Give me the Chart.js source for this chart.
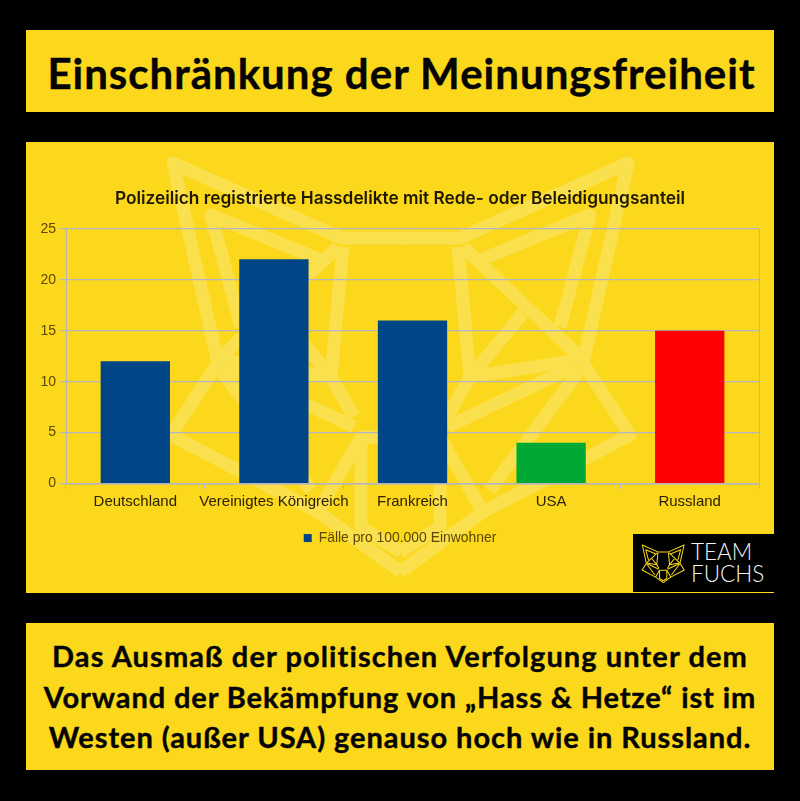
<!DOCTYPE html>
<html lang="de">
<head>
<meta charset="utf-8">
<title>Einschränkung der Meinungsfreiheit</title>
<script src="https://cdn.jsdelivr.net/npm/chart.js@4"></script>
<style>
  html, body { margin: 0; padding: 0; background: #000; }
  #page { position: relative; width: 800px; height: 801px; overflow: hidden; background: #000; }
  .panel { position: absolute; left: 26px; width: 748px; background: #fbd81b; }
  #head { top: 30px; height: 82px; }
  #mid { top: 142px; height: 451px; }
  #foot { top: 623px; height: 147px; }
  .line { position: absolute; left: 0; width: 100%; text-align: center; white-space: nowrap; color: #050505; font-family: Lato, sans-serif; font-weight: 700; -webkit-text-stroke: 0.4px #050505; }
  #head .line { top: 18px; font-size: 42px; line-height: 50px; letter-spacing: 1px; padding-left: 3px; box-sizing: border-box; }
  #foot .line { font-size: 29px; line-height: 36px; }
  #wm { position: absolute; left: 0; top: 0; }
  #chart { position: absolute; left: 0; top: 0; }
  #logo { position: absolute; left: 607px; top: 392px; width: 141px; height: 58px; background: #000; }
  #logo svg { position: absolute; left: 0; top: 0; }
  #logo div { position: absolute; left: 58px; color: #f2f2f2; font-family: Lato, sans-serif; font-weight: 300; font-size: 22.5px; line-height: 24px; }
</style>
</head>
<body>
<div id="page">
  <div class="panel" id="head"><div class="line">Einschränkung der Meinungsfreiheit</div></div>
  <div class="panel" id="mid">
    <svg id="wm" width="748" height="451" viewBox="26 142 748 451">
      <defs>
        <g id="half" fill="none" stroke-linejoin="round" stroke-linecap="butt">
          <path d="M400 238 L460 238 L628 163 L583 363 L630 435 L483 512 L400 572"/>
          <path d="M480 260 L590 215 L560 327"/>
          <path d="M463 247 L580 357"/>
          <path d="M458 247 L470 377 L523 313"/>
          <path d="M470 377 L577 360"/>
          <path d="M573 367 L447 427"/>
          <path d="M470 377 L447 417"/>
          <path d="M580 370 L490 490"/>
          <path d="M400 437 L440 437 L483 512"/>
          <path d="M440 437 L440 527 L400 552"/>
        </g>
        <g id="fox">
          <use href="#half"/>
          <use href="#half" transform="translate(801 0) scale(-1 1)"/>
        </g>
      </defs>
      <use href="#fox" stroke="#fbe04d" stroke-width="13"/>
    </svg>
    <canvas id="chart" width="748" height="451"></canvas>
    <div id="logo">
      <svg width="58" height="58" viewBox="0 0 58 58">
        <use href="#fox" stroke="#fbd81b" stroke-width="11" transform="translate(9 11) scale(0.0919) translate(-170 -163)"/>
      </svg>
      <div style="top:6px">TEAM</div>
      <div style="top:28px">FUCHS</div>
    </div>
  </div>
  <div class="panel" id="foot">
    <div class="line" style="top:15px;letter-spacing:1.1px">Das Ausmaß der politischen Verfolgung unter dem</div>
    <div class="line" style="top:56px;letter-spacing:0.9px">Vorwand der Bekämpfung von „Hass &amp; Hetze“ ist im</div>
    <div class="line" style="top:96px;letter-spacing:0.95px">Westen (außer USA) genauso hoch wie in Russland.</div>
  </div>
</div>
<script>
  const categories = ["Deutschland", "Vereinigtes Königreich", "Frankreich", "USA", "Russland"];
  const values = [12, 22, 16, 4, 15];
  const barColors = ["#004586", "#004586", "#004586", "#00a933", "#ff0000"];
  const seriesName = "Fälle pro 100.000 Einwohner";
  const chartTitle = "Polizeilich registrierte Hassdelikte mit Rede- oder Beleidigungsanteil";
  const gridColor = "#b4b4c4";

  // the source chart closes the plot with a line on the right side
  const rightEdge = {
    id: "rightEdge",
    beforeDatasetsDraw(chart) {
      const { ctx, chartArea: a } = chart;
      ctx.save();
      ctx.strokeStyle = gridColor;
      ctx.lineWidth = 1;
      ctx.beginPath();
      ctx.moveTo(a.right + 0.5, a.top);
      ctx.lineTo(a.right + 0.5, a.bottom);
      ctx.stroke();
      ctx.restore();
    }
  };

  new Chart(document.getElementById("chart"), {
    type: "bar",
    data: {
      labels: categories,
      datasets: [{ label: seriesName, data: values, backgroundColor: barColors, barPercentage: 0.5, categoryPercentage: 1 }]
    },
    plugins: [rightEdge],
    options: {
      animation: false,
      responsive: false,
      devicePixelRatio: 1,
      layout: { padding: { left: 15, right: 15, top: 0, bottom: 38 } },
      scales: {
        x: {
          grid: { color: gridColor, drawOnChartArea: false, tickLength: 5, tickColor: gridColor },
          border: { color: gridColor, width: 1.5 },
          ticks: { color: "#2e2200", font: { family: "'Liberation Sans'", size: 15 }, padding: 4, maxRotation: 0, autoSkip: false },
          afterFit(s) { s.height = 37.5; }
        },
        y: {
          min: 0,
          max: 25,
          grid: { color: gridColor, lineWidth: 1.2, tickLength: 6, tickColor: gridColor },
          border: { color: gridColor },
          ticks: { stepSize: 5, color: "#5c4700", font: { family: "'Liberation Sans'", size: 14 }, padding: 4 },
          afterFit(s) { s.width = 25; }
        }
      },
      plugins: {
        title: {
          display: true,
          text: chartTitle,
          color: "#1f1800",
          font: { family: "Inter", size: 17.3, weight: "600" },
          padding: { top: 46, bottom: 20 }
        },
        legend: {
          position: "bottom",
          labels: {
            boxWidth: 8,
            boxHeight: 8,
            color: "#5c4700",
            font: { family: "'Liberation Sans'", size: 13.9 },
            padding: 10,
            generateLabels: () => [{ text: seriesName, fillStyle: barColors[0], strokeStyle: barColors[0], fontColor: "#5c4700", lineWidth: 0, datasetIndex: 0 }]
          }
        },
        tooltip: { enabled: false }
      }
    }
  });
</script>
</body>
</html>
